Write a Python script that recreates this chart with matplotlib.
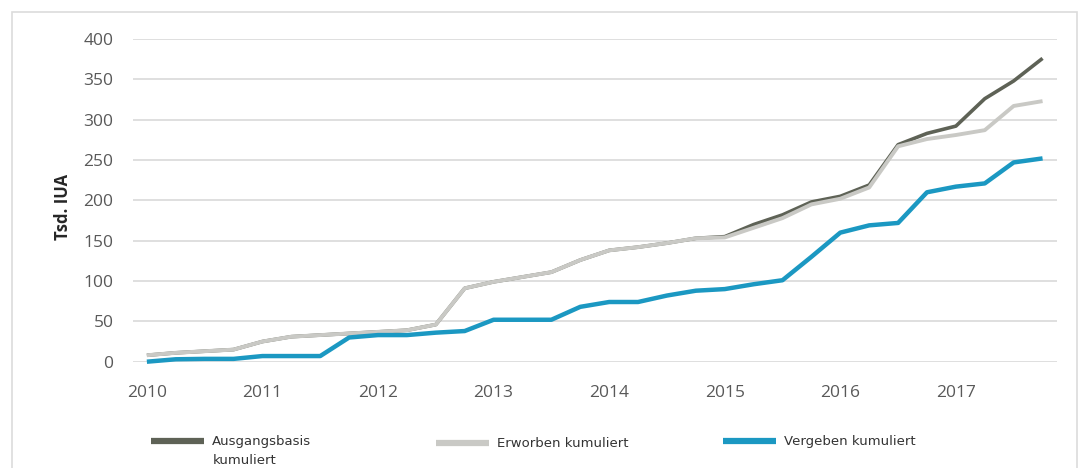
import matplotlib
matplotlib.use("Agg")
import matplotlib.pyplot as plt
from matplotlib.patches import Rectangle

# Quarterly data 2010 Q1 .. 2017 Q4 (Tsd. IUA)
quarters = [f"{y}Q{q}" for y in range(2010, 2018) for q in range(1, 5)]
year_labels = ["2010", "2011", "2012", "2013", "2014", "2015", "2016", "2017"]

ausgangsbasis = [8, 11, 13, 15, 25, 31, 33, 35, 37, 39, 46, 91, 99, 105, 111, 126,
                 138, 142, 147, 153, 155, 170, 182, 198, 205, 219, 269, 283, 292, 326, 348, 376]
erworben = [8, 11, 13, 15, 25, 31, 33, 35, 37, 39, 46, 91, 99, 105, 111, 126,
            138, 142, 147, 153, 154, 166, 178, 195, 202, 216, 267, 276, 281, 287, 317, 323]
vergeben = [0, 3, 3.5, 3.5, 7, 7, 7, 30, 33, 33, 36, 38, 52, 52, 52, 68,
            74, 74, 82, 88, 90, 96, 101, 130, 160, 169, 172, 210, 217, 221, 247, 252]

W, H = 1081, 468
fig = plt.figure(figsize=(W / 100, H / 100), dpi=100)
fig.patch.set_facecolor("white")

# light outer frame
fig.patches.append(Rectangle((12 / W, -0.05), (1077 - 12) / W, 1 - 12 / H + 0.05,
                             transform=fig.transFigure, fill=False,
                             edgecolor="#dcdcdc", linewidth=1.2))

ax = fig.add_axes([133 / W, 1 - 361.7 / H, (1057 - 133) / W, (361.7 - 39) / H])

x = list(range(len(quarters)))
c_dark = "#5e6256"
c_grey = "#c9c9c5"
c_blue = "#1b98c2"

l1, = ax.plot(x, ausgangsbasis, color=c_dark, lw=2.6, solid_capstyle="butt", clip_on=False, zorder=3)
l2, = ax.plot(x, erworben, color=c_grey, lw=2.8, solid_capstyle="butt", clip_on=False, zorder=4)
l3, = ax.plot(x, vergeben, color=c_blue, lw=3.2, solid_capstyle="butt", clip_on=False, zorder=5)

ax.set_xlim(-0.48, 31.5)
ax.set_ylim(0, 400)
ax.set_yticks(range(0, 401, 50))
ax.set_xticks(x[::4])
ax.set_xticklabels(year_labels)

ax.grid(axis="y", color="#d9d9d9", linewidth=1.2)
ax.set_axisbelow(True)
for s in ax.spines.values():
    s.set_visible(False)
ax.tick_params(axis="both", length=0, labelsize=12.5, labelcolor="#595959")
ax.tick_params(axis="y", pad=14)
ax.tick_params(axis="x", pad=17)
for lab in ax.get_xticklabels() + ax.get_yticklabels():
    lab.set_fontfamily("Open Sans")

ax.set_ylabel("Tsd. IUA", fontsize=12, fontweight="bold", color="#262626",
              fontfamily="Open Sans")
ax.yaxis.label.set_verticalalignment("center")
ax.yaxis.set_label_coords((63 - 133) / (1057 - 133), (361.7 - 207) / (361.7 - 39))

# legend: three separate entries
entries = [(l1, "Ausgangsbasis", 150, 426), (l2, "Erworben kumuliert", 435, 428),
           (l3, "Vergeben kumuliert", 722, 426)]
for handle, label, xpix, ypix in entries:
    proxy = plt.Line2D([], [], color=handle.get_color(), lw=4.5, solid_capstyle="butt")
    leg = fig.legend([proxy], [label], loc="upper left",
                     bbox_to_anchor=((xpix - 8) / W, 1 - ypix / H),
                     frameon=False, fontsize=9.5, handlelength=4.0,
                     handletextpad=0.6, borderpad=0.2)
    for t in leg.get_texts():
        t.set_color("#333333")
fig.text(213 / W, 1 - 460 / H, "kumuliert", fontsize=9.5, color="#333333",
         ha="left", va="center")

fig.savefig("out.png", dpi=100)
